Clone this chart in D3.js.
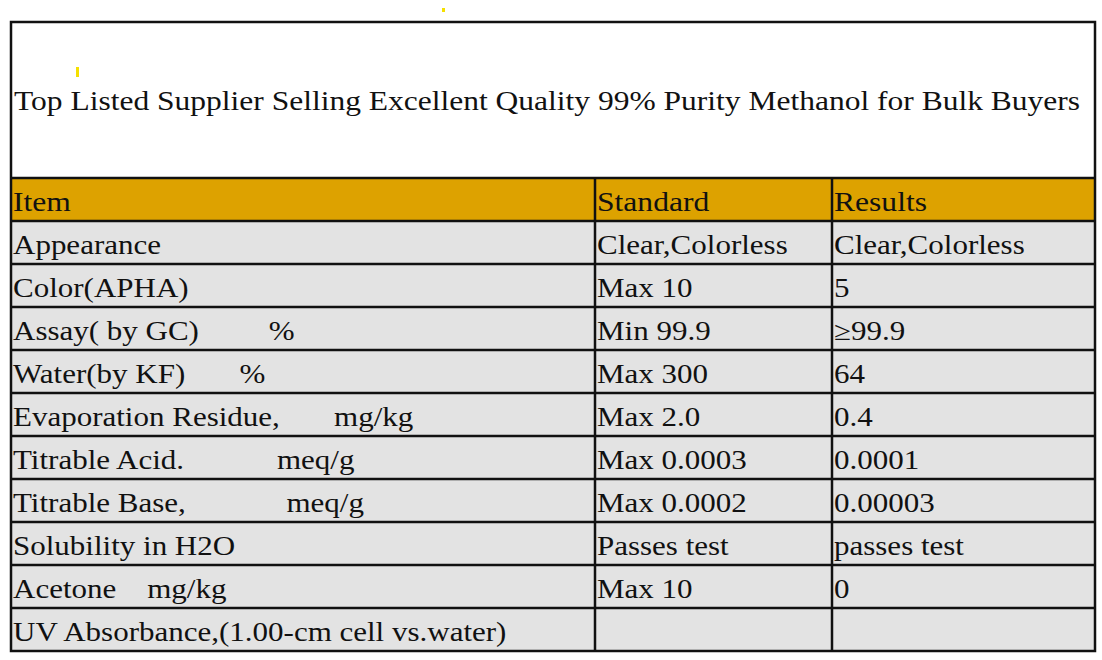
<!DOCTYPE html>
<html><head><meta charset="utf-8">
<script src="https://cdn.jsdelivr.net/npm/d3@7"></script>
<style>body{margin:0;background:#fff}text{font-family:"Liberation Serif","Times New Roman",serif;white-space:pre}</style>
</head><body><svg id="c" width="1102" height="660"></svg>
<script>
const title = "Top Listed Supplier Selling Excellent Quality 99% Purity Methanol for Bulk Buyers";
const headers = ["Item","Standard","Results"];
const items = ["Appearance","Color(APHA)","Assay( by GC)         %","Water(by KF)       %","Evaporation Residue,       mg/kg","Titrable Acid.            meq/g","Titrable Base,             meq/g","Solubility in H2O","Acetone    mg/kg","UV Absorbance,(1.00-cm cell vs.water)"];
const standards = ["Clear,Colorless","Max 10","Min 99.9","Max 300","Max 2.0","Max 0.0003","Max 0.0002","Passes test","Max 10",""];
const results = ["Clear,Colorless","5","≥99.9","64","0.4","0.0001","0.00003","passes test","0",""];

const svg = d3.select("#c");
const L=11,R=1095,T=22,TB=178,HB=221,B=651;
const colX = [L,595,832,R];
const y = d3.scaleBand().domain(d3.range(items.length)).range([HB,B]);
svg.append("rect").attr("x",442).attr("y",8).attr("width",3).attr("height",4).attr("fill","#f5e000");
svg.append("rect").attr("x",76).attr("y",67).attr("width",3).attr("height",10).attr("fill","#f5e000");
svg.append("rect").attr("x",L).attr("y",TB).attr("width",R-L).attr("height",HB-TB).attr("fill","#DDA200");
svg.append("rect").attr("x",L).attr("y",HB).attr("width",R-L).attr("height",B-HB).attr("fill","#E3E3E3");
function txt(x,yy,s,fs,sx){ svg.append("text").attr("transform",`translate(${x},${yy}) scale(${sx},1)`).attr("font-size",fs).attr("fill","#111").text(s); }
txt(14,110,title,27.5,1.146);
headers.forEach((h,i)=>txt(colX[i]+2,211,h,27,1.17));
[items,standards,results].forEach((arr,c)=>arr.forEach((d,i)=>txt(colX[c]+2,y(i)+33,d,26.5,1.17)));
const g=svg.append("g").attr("stroke","#111").attr("stroke-width",2.5);
g.append("rect").attr("x",L).attr("y",T).attr("width",R-L).attr("height",B-T).attr("fill","none");
g.append("line").attr("x1",L).attr("x2",R).attr("y1",TB).attr("y2",TB);
g.append("line").attr("x1",L).attr("x2",R).attr("y1",HB).attr("y2",HB);
items.forEach((d,i)=>{ if(i>0) g.append("line").attr("x1",L).attr("x2",R).attr("y1",y(i)).attr("y2",y(i)); });
[1,2].forEach(c=>g.append("line").attr("x1",colX[c]).attr("x2",colX[c]).attr("y1",TB).attr("y2",B));
</script></body></html>
